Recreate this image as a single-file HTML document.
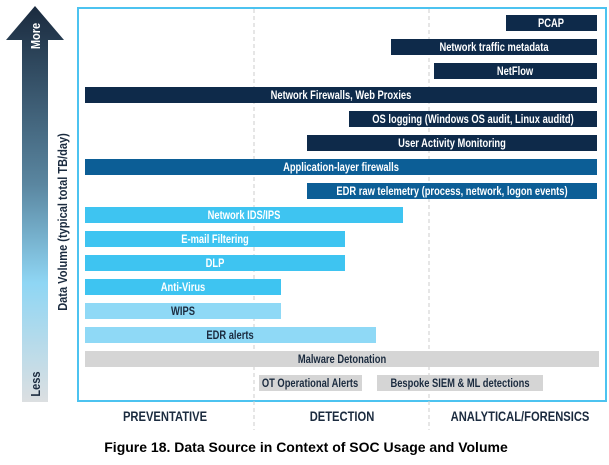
<!DOCTYPE html>
<html><head><style>
html,body{margin:0;padding:0;background:#fff;width:609px;height:465px;overflow:hidden}
svg text{font-family:"Liberation Sans",sans-serif;font-weight:bold}
</style></head><body>
<svg width="609" height="465" viewBox="0 0 609 465" xmlns="http://www.w3.org/2000/svg">
<defs>
<linearGradient id="g" x1="0" y1="0" x2="0" y2="1">
<stop offset="0" stop-color="#1a2a3e"/>
<stop offset="0.45" stop-color="#5a86a0"/>
<stop offset="0.7" stop-color="#8fd6f4"/>
<stop offset="1" stop-color="#dcdfe1"/>
</linearGradient>
</defs>
<polygon points="35,6 64,40 48,40 48,402 22,402 22,40 6,40" fill="url(#g)"/>
<text transform="translate(40,36) rotate(-90) scale(0.85,1)" font-size="13" fill="#fff" text-anchor="middle">More</text>
<text transform="translate(40,384) rotate(-90) scale(0.85,1)" font-size="13" fill="#1b2b3f" text-anchor="middle">Less</text>
<text transform="translate(67,222) rotate(-90) scale(0.85,1)" font-size="13" fill="#1b2b3f" text-anchor="middle">Data Volume (typical total TB/day)</text>
<rect x="78" y="8" width="528" height="393" fill="none" stroke="#4cc3f0" stroke-width="2"/>
<line x1="254" y1="9" x2="254" y2="430" stroke="#ccc" stroke-dasharray="4,3"/>
<line x1="429" y1="9" x2="429" y2="430" stroke="#ccc" stroke-dasharray="4,3"/>
<g font-size="12" text-anchor="middle">
<rect x="506" y="15" width="91" height="16" fill="#0e2a4a"/><text transform="translate(551,27) scale(0.78,1)" fill="#fff">PCAP</text>
<rect x="391" y="39" width="206" height="16" fill="#0e2a4a"/><text transform="translate(494,51) scale(0.78,1)" fill="#fff">Network traffic metadata</text>
<rect x="434" y="63" width="163" height="16" fill="#0e2a4a"/><text transform="translate(515,75) scale(0.78,1)" fill="#fff">NetFlow</text>
<rect x="85" y="87" width="512" height="16" fill="#0e2a4a"/><text transform="translate(341,99) scale(0.78,1)" fill="#fff">Network Firewalls, Web Proxies</text>
<rect x="349" y="111" width="248" height="16" fill="#0e2a4a"/><text transform="translate(473,123) scale(0.78,1)" fill="#fff">OS logging (Windows OS audit, Linux auditd)</text>
<rect x="307" y="135" width="290" height="16" fill="#0e2a4a"/><text transform="translate(452,147) scale(0.78,1)" fill="#fff">User Activity Monitoring</text>
<rect x="85" y="159" width="512" height="16" fill="#0c5e96"/><text transform="translate(341,171) scale(0.78,1)" fill="#fff">Application-layer firewalls</text>
<rect x="307" y="183" width="290" height="16" fill="#0c5e96"/><text transform="translate(452,195) scale(0.78,1)" fill="#fff">EDR raw telemetry (process, network, logon events)</text>
<rect x="85" y="207" width="318" height="16" fill="#3ec4f1"/><text transform="translate(244,219) scale(0.78,1)" fill="#fff">Network IDS/IPS</text>
<rect x="85" y="231" width="260" height="16" fill="#3ec4f1"/><text transform="translate(215,243) scale(0.78,1)" fill="#fff">E-mail Filtering</text>
<rect x="85" y="255" width="260" height="16" fill="#3ec4f1"/><text transform="translate(215,267) scale(0.78,1)" fill="#fff">DLP</text>
<rect x="85" y="279" width="196" height="16" fill="#3ec4f1"/><text transform="translate(183,291) scale(0.78,1)" fill="#fff">Anti-Virus</text>
<rect x="85" y="303" width="196" height="16" fill="#8fd9f6"/><text transform="translate(183,315) scale(0.78,1)" fill="#1b2b3f">WIPS</text>
<rect x="85" y="327" width="291" height="16" fill="#8fd9f6"/><text transform="translate(230,339) scale(0.78,1)" fill="#1b2b3f">EDR alerts</text>
<rect x="85" y="351" width="514" height="16" fill="#d5d5d5"/><text transform="translate(342,363) scale(0.78,1)" fill="#1b2b3f">Malware Detonation</text>
<rect x="259" y="375" width="103" height="16" fill="#d5d5d5"/><text transform="translate(310,387) scale(0.78,1)" fill="#1b2b3f">OT Operational Alerts</text>
<rect x="377" y="375" width="166" height="16" fill="#d5d5d5"/><text transform="translate(460,387) scale(0.78,1)" fill="#1b2b3f">Bespoke SIEM &amp; ML detections</text>
</g>
<g font-size="14" text-anchor="middle" fill="#1b2b3f">
<text transform="translate(165,421) scale(0.8,1)">PREVENTATIVE</text>
<text transform="translate(342,421) scale(0.8,1)">DETECTION</text>
<text transform="translate(520,421) scale(0.8,1)">ANALYTICAL/FORENSICS</text>
</g>
<text x="306" y="452" font-size="14" text-anchor="middle" fill="#000">Figure 18. Data Source in Context of SOC Usage and Volume</text>
</svg>
</body></html>
